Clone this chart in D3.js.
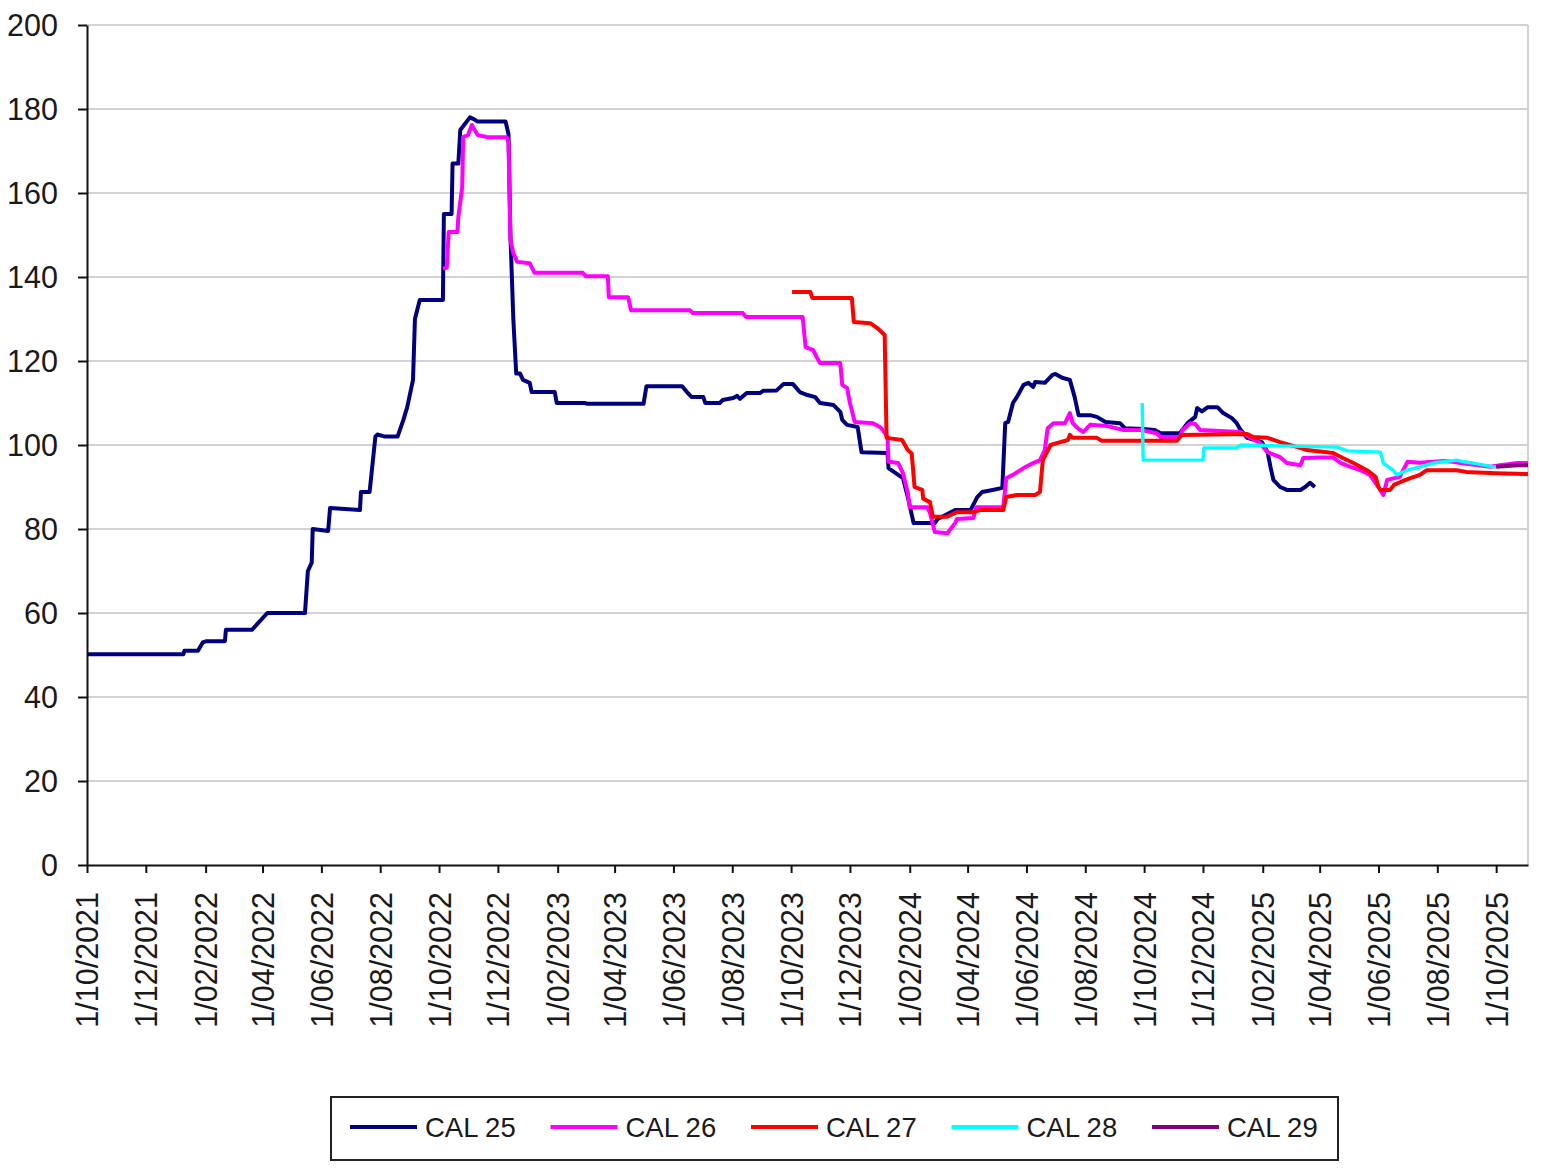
<!DOCTYPE html>
<html>
<head>
<meta charset="utf-8">
<script src="https://cdn.jsdelivr.net/npm/d3@7"></script>
<style>
  html, body { margin: 0; padding: 0; background: #fff; }
  svg { display: block; font-family: "Liberation Sans", Arial, sans-serif; }
</style>
</head>
<body>
<svg id="chart" width="1544" height="1173"></svg>
<script>
// ---------- DATA ----------
const seriesNames = ["CAL 25", "CAL 26", "CAL 27", "CAL 28", "CAL 29"];
const seriesColors = ["#00007f", "#ff00ff", "#ff0000", "#00ffff", "#800080"];

const cal25 = [
  ["2021-10-01",50.2],["2022-01-09",50.2],["2022-01-10",51],["2022-01-24",51],["2022-01-29",53],
  ["2022-02-02",53.3],["2022-02-21",53.3],["2022-02-22",56],["2022-03-21",56],["2022-04-06",60],
  ["2022-05-15",60],["2022-05-18",70],["2022-05-22",72],["2022-05-23",80],["2022-06-08",79.5],
  ["2022-06-10",85],["2022-07-11",84.5],["2022-07-12",88.8],["2022-07-21",88.8],["2022-07-27",102],
  ["2022-07-29",102.5],["2022-08-06",102],["2022-08-19",102],["2022-08-25",106],["2022-08-29",109],
  ["2022-09-04",115.5],["2022-09-06",130],["2022-09-11",134.5],["2022-10-05",134.5],["2022-10-06",155],
  ["2022-10-14",155],["2022-10-15",167],["2022-10-21",167],["2022-10-23",175],["2022-11-02",178],
  ["2022-11-06",177.6],["2022-11-10",177],["2022-12-09",177],["2022-12-12",174],["2022-12-14",150],
  ["2022-12-17",130],["2022-12-20",117],["2022-12-24",117],["2022-12-27",115.5],["2023-01-03",114.8],
  ["2023-01-05",112.6],["2023-01-29",112.6],["2023-01-31",110],["2023-03-01",110],["2023-03-04",109.8],
  ["2023-05-01",109.8],["2023-05-04",114],["2023-06-10",114],["2023-06-15",112.6],["2023-06-20",111.4],
  ["2023-07-02",111.4],["2023-07-04",110],["2023-07-19",110],["2023-07-22",110.7],["2023-08-02",111.2],
  ["2023-08-06",111.7],["2023-08-09",111],["2023-08-16",112.4],["2023-08-30",112.4],["2023-09-02",112.9],
  ["2023-09-16",113],["2023-09-23",114.5],["2023-10-03",114.5],["2023-10-10",112.6],["2023-10-18",111.9],
  ["2023-10-26",111.4],["2023-10-31",110],["2023-11-14",109.5],["2023-11-21",107.9],["2023-11-23",106],
  ["2023-11-28",104.8],["2023-12-09",104.3],["2023-12-13",98.3],["2024-01-09",98.1],["2024-01-10",94.5],
  ["2024-01-20",92.9],["2024-01-25",92.1],["2024-01-30",87.6],["2024-02-05",81.4],["2024-02-27",81.4],
  ["2024-03-01",82.4],["2024-03-19",84.5],["2024-04-04",84.5],["2024-04-11",87.6],["2024-04-16",88.8],
  ["2024-04-27",89.3],["2024-05-07",89.8],["2024-05-10",105.2],["2024-05-13",105.5],["2024-05-18",110],
  ["2024-05-22",111.4],["2024-05-29",114.3],["2024-06-03",114.8],["2024-06-08",113.8],["2024-06-10",115],
  ["2024-06-20",114.8],["2024-06-28",116.7],["2024-07-01",116.9],["2024-07-08",116],["2024-07-16",115.5],
  ["2024-07-21",111.4],["2024-07-25",107.1],["2024-08-06",107.1],["2024-08-13",106.7],["2024-08-22",105.5],
  ["2024-09-06",105.2],["2024-09-11",104],["2024-09-30",103.8],["2024-10-12",103.6],["2024-10-18",102.8],
  ["2024-11-07",102.8],["2024-11-15",105.2],["2024-11-23",106.7],["2024-11-25",108.8],["2024-11-30",108],
  ["2024-12-06",109],["2024-12-16",109],["2024-12-22",107.6],["2024-12-31",106.4],["2025-01-05",105.2],
  ["2025-01-09",103.6],["2025-01-16",101.7],["2025-01-31",100.7],["2025-02-06",98.3],["2025-02-09",94.8],
  ["2025-02-12",91.7],["2025-02-19",90],["2025-02-26",89.3],["2025-03-12",89.3],["2025-03-17",90],
  ["2025-03-22",91],["2025-03-27",90]
];

const cal26 = [
  ["2022-10-05",142],["2022-10-09",142.2],["2022-10-11",150.7],["2022-10-20",150.7],["2022-10-21",154.3],
  ["2022-10-25",161.4],["2022-10-26",173.3],["2022-10-31",173.8],["2022-11-04",176.2],["2022-11-07",175],
  ["2022-11-10",173.8],["2022-11-20",173.3],["2022-12-10",173.3],["2022-12-12",172],["2022-12-14",148.8],
  ["2022-12-17",145.7],["2022-12-21",143.6],["2023-01-03",143.3],["2023-01-08",141],["2023-02-27",141],
  ["2023-03-02",140.2],["2023-03-25",140.2],["2023-03-26",135.2],["2023-04-15",135.2],["2023-04-18",132.1],
  ["2023-06-18",132.1],["2023-06-21",131.4],["2023-08-12",131.4],["2023-08-15",130.5],["2023-10-13",130.5],
  ["2023-10-16",123.3],["2023-10-24",122.6],["2023-10-28",120.7],["2023-10-31",119.5],["2023-11-21",119.5],
  ["2023-11-23",114.3],["2023-11-28",113.6],["2023-12-01",110],["2023-12-06",105.5],["2023-12-25",105.2],
  ["2024-01-01",104.3],["2024-01-04",103.6],["2024-01-09",101.9],["2024-01-10",96],["2024-01-20",95.7],
  ["2024-01-25",93.3],["2024-01-30",88.6],["2024-02-01",85.2],["2024-02-19",85.2],["2024-02-22",83.8],
  ["2024-02-27",79.3],["2024-03-11",79],["2024-03-19",81.4],["2024-03-21",82.4],["2024-04-07",82.6],
  ["2024-04-10",85.2],["2024-05-08",85.2],["2024-05-11",92.1],["2024-05-18",92.9],["2024-05-29",94.5],
  ["2024-06-08",95.7],["2024-06-15",96.4],["2024-06-20",98.8],["2024-06-23",104],["2024-06-29",105.2],
  ["2024-07-11",105.2],["2024-07-16",107.6],["2024-07-19",105.2],["2024-07-24",104],["2024-07-30",103.1],
  ["2024-08-06",104.8],["2024-08-24",104.5],["2024-09-09",103.6],["2024-09-27",103.6],["2024-10-14",102.8],
  ["2024-10-18",101.9],["2024-11-07",101.9],["2024-11-10",103.6],["2024-11-18",105.2],["2024-11-23",105],
  ["2024-11-28",103.6],["2025-01-09",103.1],["2025-01-29",100.5],["2025-02-06",98.3],["2025-02-19",97.1],
  ["2025-02-26",95.7],["2025-03-12",95.2],["2025-03-15",96.9],["2025-04-02",97],["2025-04-15",97],
  ["2025-04-23",95.7],["2025-05-03",94.8],["2025-05-13",94],["2025-05-23",92.9],["2025-06-03",89.3],
  ["2025-06-06",88.1],["2025-06-10",91.7],["2025-06-23",92.4],["2025-07-01",96],["2025-07-14",95.8],
  ["2025-08-07",96.2],["2025-08-17",96],["2025-08-25",95.7],["2025-09-25",94.8],["2025-10-05",95.2],
  ["2025-10-23",95.7],["2025-11-03",95.7]
];

const cal27 = [
  ["2023-10-02",136.4],["2023-10-21",136.4],["2023-10-23",135],["2023-12-03",135],["2023-12-05",129.3],
  ["2023-12-22",129],["2023-12-29",127.9],["2024-01-06",126.2],["2024-01-08",101.7],["2024-01-24",101.2],
  ["2024-01-30",98.8],["2024-02-03",98],["2024-02-06",90],["2024-02-14",89.3],["2024-02-15",87.2],
  ["2024-02-22",86.4],["2024-02-25",82.9],["2024-03-11",82.9],["2024-03-14",83.3],["2024-03-21",84],
  ["2024-04-07",84],["2024-04-14",84.5],["2024-05-08",84.5],["2024-05-11",87.6],["2024-05-22",88.1],
  ["2024-06-10",88.1],["2024-06-15",88.8],["2024-06-18",96.4],["2024-06-26",100],["2024-07-06",100.7],
  ["2024-07-14",101.2],["2024-07-16",102.4],["2024-07-19",101.7],["2024-08-13",101.7],["2024-08-18",101],
  ["2024-11-04",101],["2024-11-09",102.4],["2025-01-16",102.6],["2025-01-22",101.9],["2025-02-06",101.7],
  ["2025-02-19",100.7],["2025-03-09",99.5],["2025-03-19",98.8],["2025-04-15",98.1],["2025-04-25",96.9],
  ["2025-05-06",95.7],["2025-05-20",94],["2025-05-29",92.4],["2025-06-01",90],["2025-06-03",89.3],
  ["2025-06-13",89.3],["2025-06-17",90.5],["2025-06-24",91.2],["2025-07-04",92.1],["2025-07-14",92.9],
  ["2025-07-21",94],["2025-08-21",94],["2025-08-31",93.6],["2025-10-01",93.3],["2025-11-03",93.1]
];

const cal28 = [
  ["2024-09-29",110],["2024-09-30",96.4],["2024-12-01",96.4],["2024-12-02",99.3],["2025-01-05",99.3],
  ["2025-01-09",100],["2025-04-19",99.5],["2025-04-30",98.6],["2025-06-03",98.3],["2025-06-06",95.7],
  ["2025-06-16",94],["2025-06-20",92.9],["2025-07-01",94],["2025-07-14",94.8],["2025-07-28",95.7],
  ["2025-08-21",96.4],["2025-08-28",96],["2025-09-07",95.7],["2025-09-28",94.8],["2025-10-01",94.8]
];

const cal29 = [
  ["2025-10-01",94.8],["2025-10-23",95.2],["2025-11-03",95.2]
];

const yTicks = [0, 20, 40, 60, 80, 100, 120, 140, 160, 180, 200];
const xStart = "2021-10-01";
const xEnd = "2025-11-03";
const xTickCount = 25;   // 1/10/2021 ... 1/10/2025, every two months

// ---------- CHART ----------
(function () {
const parse = d3.timeParse("%Y-%m-%d");
const allSeries = [cal25, cal26, cal27, cal28, cal29].map((arr, i) => ({
  name: seriesNames[i],
  color: seriesColors[i],
  values: arr.map(d => ({ date: parse(d[0]), value: d[1] }))
}));

const svg = d3.select("#chart");
const pLeft = 87, pRight = 1528, pTop = 25, pBottom = 865;

const x = d3.scaleTime().domain([parse(xStart), parse(xEnd)]).range([pLeft, pRight]);
const y = d3.scaleLinear().domain([0, 200]).range([pBottom, pTop]);

// gridlines
svg.append("g").selectAll("line").data(yTicks.filter(t => t > 0)).join("line")
  .attr("x1", pLeft).attr("x2", pRight)
  .attr("y1", d => y(d)).attr("y2", d => y(d))
  .attr("stroke", "#d2d2d2").attr("stroke-width", 2);
svg.append("line").attr("x1", pRight).attr("x2", pRight).attr("y1", pTop).attr("y2", pBottom)
  .attr("stroke", "#d2d2d2").attr("stroke-width", 2);

// series
const line = d3.line().x(d => x(d.date)).y(d => y(d.value)).curve(d3.curveLinear);
svg.append("g").selectAll("path").data(allSeries).join("path")
  .attr("d", d => line(d.values))
  .attr("fill", "none")
  .attr("stroke", d => d.color)
  .attr("stroke-width", (d, i) => i === 3 ? 3.4 : 4)
  .attr("stroke-linejoin", "round")
  .attr("stroke-linecap", "butt");

// y axis
const yAxis = d3.axisLeft(y).tickValues(yTicks).tickSize(9).tickSizeOuter(0).tickPadding(0).tickFormat(d3.format("d"));
const gy = svg.append("g").attr("transform", `translate(${pLeft},0)`).call(yAxis);
gy.select(".domain").attr("stroke", "#111").attr("stroke-width", 2);
gy.selectAll(".tick line").attr("stroke", "#111").attr("stroke-width", 2);
gy.selectAll(".tick text")
  .attr("x", -29).attr("dy", "0.36em")
  .attr("font-size", 30.5).attr("fill", "#1a1a1a")
  .attr("font-family", "'Liberation Sans', Arial, sans-serif");

// x axis
const t0 = parse(xStart);
const xTickDates = d3.range(xTickCount).map(i => d3.timeMonth.offset(t0, 2 * i));
const xAxis = d3.axisBottom(x).tickValues(xTickDates).tickSize(8).tickSizeOuter(0).tickFormat(d3.timeFormat("%-d/%m/%Y"));
const gx = svg.append("g").attr("transform", `translate(0,${pBottom})`).call(xAxis);
gx.select(".domain").attr("stroke", "#111").attr("stroke-width", 2);
gx.selectAll(".tick line").attr("stroke", "#111").attr("stroke-width", 2);
gx.selectAll(".tick text")
  .attr("transform", "translate(0,27) rotate(-90)")
  .attr("text-anchor", "end")
  .attr("x", 0).attr("y", 0).attr("dy", "0.36em")
  .attr("font-size", 30.5).attr("fill", "#1a1a1a")
  .attr("font-family", "'Liberation Sans', Arial, sans-serif");

// legend
const lg = svg.append("g");
lg.append("rect").attr("x", 331).attr("y", 1097).attr("width", 1007).attr("height", 63)
  .attr("fill", "#fff").attr("stroke", "#222").attr("stroke-width", 2);
const items = lg.selectAll("g.item").data(allSeries).join("g")
  .attr("class", "item")
  .attr("transform", (d, i) => `translate(${350 + i * 200.5},1127)`);
items.append("line").attr("x1", 0).attr("x2", 67).attr("y1", 0).attr("y2", 0)
  .attr("stroke", d => d.color).attr("stroke-width", 4);
items.append("text").attr("x", 75).attr("y", 0).attr("dy", "0.36em")
  .attr("font-size", 27.5).attr("fill", "#1a1a1a")
  .text(d => d.name);
})();
</script>
</body>
</html>
